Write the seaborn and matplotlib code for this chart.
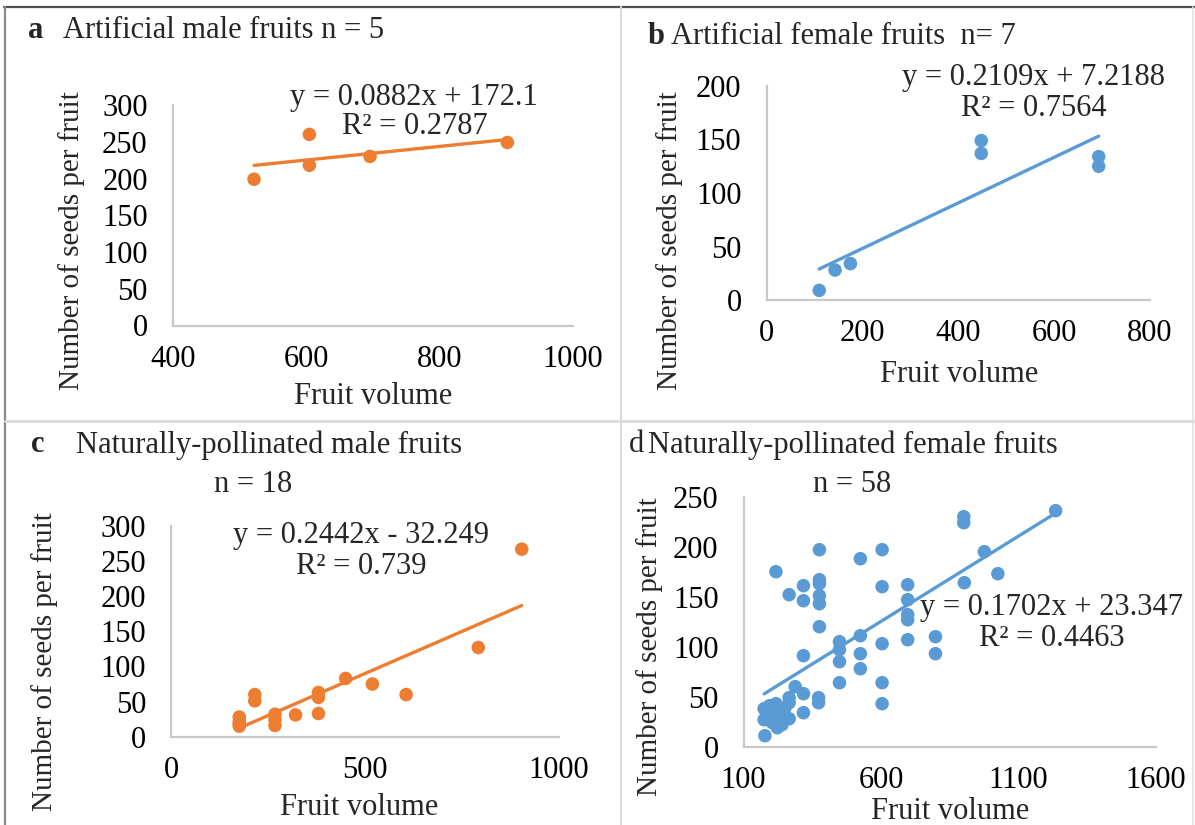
import matplotlib
matplotlib.use("Agg")
import matplotlib.pyplot as plt
import seaborn as sns
import pandas as pd
from matplotlib.lines import Line2D

# ---------------- data ----------------
a_volume = [522, 605, 605, 696, 902]
a_seeds = [199, 260, 218, 230, 249]

b_volume = [110, 143, 175, 448, 448, 693, 693]
b_seeds = [9, 28, 34, 149, 137, 134, 125]

c_volume = [176, 176, 176, 176, 216, 216, 268, 268, 268, 321, 380, 380, 380,
            450, 519, 606, 792, 904]
c_seeds = [28, 22, 18, 15, 60, 51, 32, 24, 16, 31, 63, 56, 33,
           83, 75, 60, 127, 267]

d_volume = [178, 175, 175, 218, 223, 218, 266, 266, 266, 288, 318, 318, 373, 373,
            190, 200, 205, 230, 240, 195, 250,
            218, 266, 318, 318, 318,
            376, 376, 376, 376, 376, 376,
            449, 449, 449, 449,
            525, 525, 525, 525,
            604, 604, 604, 604, 604,
            697, 697, 697, 697, 697,
            798, 798, 901, 901, 903, 976, 1025, 1235]
d_seeds = [11, 38, 27, 43, 19, 27, 28, 49, 44, 60, 53, 34, 49, 44,
           30, 35, 24, 33, 22, 41, 38,
           175, 152, 161, 146, 91,
           197, 167, 163, 151, 143, 120,
           105, 97, 85, 64,
           188, 111, 93, 78,
           197, 160, 103, 64, 43,
           162, 147, 132, 127, 107,
           110, 93, 230, 224, 164, 195, 173, 236]

titles = {
    "a": ("a", "Artificial male fruits n = 5", None),
    "b": ("b", "Artificial female fruits  n= 7", None),
    "c": ("c", "Naturally-pollinated male fruits", "n = 18"),
    "d": ("d", "Naturally-pollinated female fruits", "n = 58"),
}
equations = {
    "a": ("y = 0.0882x + 172.1", "R² = 0.2787"),
    "b": ("y = 0.2109x + 7.2188", "R² = 0.7564"),
    "c": ("y = 0.2442x - 32.249", "R² = 0.739"),
    "d": ("y = 0.1702x + 23.347", "R² = 0.4463"),
}
xlabel = "Fruit volume"
ylabel = "Number of seeds per fruit"

# ---------------- style ----------------
sns.set_theme(style="white")
plt.rcParams['font.family'] = ['Liberation Serif', 'DejaVu Serif']

ORANGE = "#ED7D31"
BLUE = "#5B9BD5"
AXIS_GRAY = "#C8C8C8"
FS = 22
FS_Y = 21

W, H = 1195, 825
fig = plt.figure(figsize=(W / 100, H / 100), dpi=100)


def px_axes(l, t, r, b):
    return fig.add_axes([l / W, 1 - b / H, (r - l) / W, (b - t) / H])


def ftext(x, y, s, **kw):
    fig.text(x / W, 1 - y / H, s, fontsize=kw.pop("fontsize", FS), **kw)


panels = [
    ("a", a_volume, a_seeds, ORANGE, (172.7, 105, 572.7, 325.5), (400, 1000), [400, 600, 800, 1000],
     (0, 300), list(range(0, 301, 50)), (-0.252, 0.383), (0.5, -0.32)),
    ("b", b_volume, b_seeds, BLUE, (766.5, 86, 1150, 300), (0, 800), [0, 200, 400, 600, 800],
     (0, 200), list(range(0, 201, 50)), (-0.252, 0.276), (0.502, -0.346)),
    ("c", c_volume, c_seeds, ORANGE, (171, 526, 559, 736.7), (0, 1000), [0, 500, 1000],
     (0, 300), list(range(0, 301, 50)), (-0.325, 0.355), (0.485, -0.338)),
    ("d", d_volume, d_seeds, BLUE, (743.5, 496.7, 1156, 746.7), (100, 1600), [100, 600, 1100, 1600],
     (0, 250), list(range(0, 251, 50)), (-0.229, 0.399), (0.5, -0.261)),
]

for key, xs, ys, col, box, xlim, xt, ylim, yt, ylp, xlp in panels:
    ax = px_axes(*box)
    df = pd.DataFrame({"vol": xs, "seeds": ys})
    sns.regplot(data=df, x="vol", y="seeds", ax=ax, ci=None, color=col,
                scatter_kws=dict(s=95, alpha=1, edgecolor="none"),
                line_kws=dict(lw=2.4))
    ax.set_xlim(*xlim)
    ax.set_ylim(*ylim)
    ax.set_xticks(xt)
    ax.set_yticks(yt)
    ax.set_facecolor("none")
    for s in ["top", "right"]:
        ax.spines[s].set_visible(False)
    for s in ["left", "bottom"]:
        ax.spines[s].set_color(AXIS_GRAY)
        ax.spines[s].set_linewidth(1.6)
    ax.tick_params(axis="both", length=0, labelsize=FS, colors="#000000")
    ax.tick_params(axis="y", pad=18)
    ax.tick_params(axis="x", pad=14)
    ax.set_xlabel(xlabel, fontsize=FS, va="center")
    ax.set_ylabel(ylabel, fontsize=FS_Y, va="center")
    ax.xaxis.set_label_coords(*xlp)
    ax.yaxis.set_label_coords(*ylp)
    ax.grid(False)
    for c in ax.collections:
        c.set_clip_on(False)

# equation texts
eq_pos = {"a": ((414, 97), (415, 127)), "b": ((1034, 77), (1034, 109)),
          "c": ((361, 535), (361, 567)), "d": ((1051, 608), (1052, 638))}
for k, (p1, p2) in eq_pos.items():
    ftext(p1[0], p1[1], equations[k][0], ha="center", va="center")
    ftext(p2[0], p2[1], equations[k][1], ha="center", va="center")

# titles
ftext(28, 30, titles["a"][0], ha="left", va="center", fontweight="bold")
ftext(63, 30, titles["a"][1], ha="left", va="center")
ftext(648, 37, titles["b"][0], ha="left", va="center", fontweight="bold")
ftext(671, 37, titles["b"][1], ha="left", va="center")
ftext(31, 445, titles["c"][0], ha="left", va="center", fontweight="bold")
ftext(76, 445, titles["c"][1], ha="left", va="center")
ftext(253, 484, titles["c"][2], ha="center", va="center")
ftext(629, 445, titles["d"][0], ha="left", va="center")
ftext(648, 445, titles["d"][1], ha="left", va="center")
ftext(852, 484, titles["d"][2], ha="center", va="center")


# panel frame lines
def fline(x0, y0, x1, y1, color, lw):
    fig.add_artist(Line2D([x0 / W, x1 / W], [1 - y0 / H, 1 - y1 / H],
                          color=color, lw=lw, transform=fig.transFigure))


fline(4, 7, W, 7, "#505050", 1.6)
fline(5, 7, 5, H, "#8a8a8a", 1.6)
fline(621, 7, 621, H, "#DADADA", 1.5)
fline(5, 421, W, 421, "#DADADA", 2.0)
fline(1193, 7, 1193, H, "#E2E2E2", 1.2)

fig.savefig("out.png", dpi=100, facecolor="white")
